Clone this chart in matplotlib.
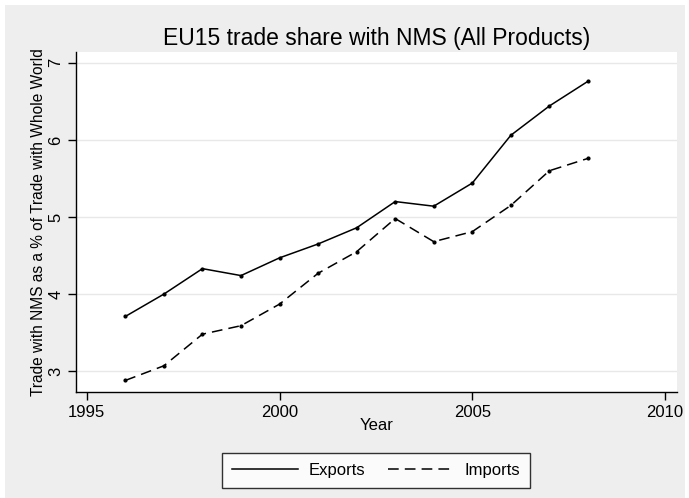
import matplotlib
matplotlib.use("Agg")
import matplotlib.pyplot as plt
import matplotlib.patches as mpatches

plt.rcParams['font.family'] = ['Liberation Sans', 'DejaVu Sans']

years = [1996, 1997, 1998, 1999, 2000, 2001, 2002, 2003, 2004, 2005, 2006, 2007, 2008]
exports = [3.71, 4.00, 4.33, 4.24, 4.47, 4.65, 4.86, 5.20, 5.14, 5.44, 6.06, 6.44, 6.76]
imports = [2.88, 3.07, 3.48, 3.59, 3.87, 4.27, 4.55, 4.98, 4.68, 4.81, 5.15, 5.60, 5.76]
x_ticks = [1995, 2000, 2005, 2010]
y_ticks = [3, 4, 5, 6, 7]

fig = plt.figure(figsize=(6.89, 4.98), dpi=100)
fig.patch.set_facecolor('white')
# grey Stata-style background panel
bg = mpatches.Rectangle((5 / 689, 0), 680 / 689, 493 / 498,
                        transform=fig.transFigure,
                        facecolor='#eeeeee', edgecolor='none', zorder=-10)
fig.add_artist(bg)

ax = fig.add_axes([76 / 689, 106 / 498, 601 / 689, 340 / 498])
ax.set_facecolor('white')

ax.plot(years, exports, color='black', linewidth=1.1, marker='o', markersize=2,
        label='Exports')
ax.plot(years, imports, color='black', linewidth=1.1, marker='o', markersize=2,
        linestyle=(0, (7, 4)), label='Imports')

ax.set_xlim(1994.72, 2010.31)
ax.set_ylim(2.73, 7.14)
ax.set_xticks(x_ticks)
ax.set_yticks(y_ticks)
ax.set_yticklabels(y_ticks, rotation=90, va='center')
ax.tick_params(labelsize=12, length=6, width=1, direction='out', pad=3)
ax.grid(axis='y', color='#e8e8e8', linewidth=1)
ax.set_axisbelow(True)

for s in ['top', 'right']:
    ax.spines[s].set_visible(False)
for s in ['left', 'bottom']:
    ax.spines[s].set_linewidth(1)

ax.set_title('EU15 trade share with NMS (All Products)', fontsize=16.5, pad=5)
ax.set_xlabel('Year', fontsize=12, labelpad=-1)
ax.set_ylabel('Trade with NMS as a % of Trade with Whole World', fontsize=11.2, labelpad=2)

leg = fig.legend(loc='center', bbox_to_anchor=(376 / 689, 1 - 470 / 498), ncol=2,
                 fontsize=12, frameon=True, fancybox=False, edgecolor='black',
                 handlelength=4.0, columnspacing=1.4, handletextpad=0.6,
                 borderpad=0.6)
leg.get_frame().set_linewidth(1)
for h in leg.legend_handles:
    h.set_marker('')

fig.savefig('out.png', dpi=100)
